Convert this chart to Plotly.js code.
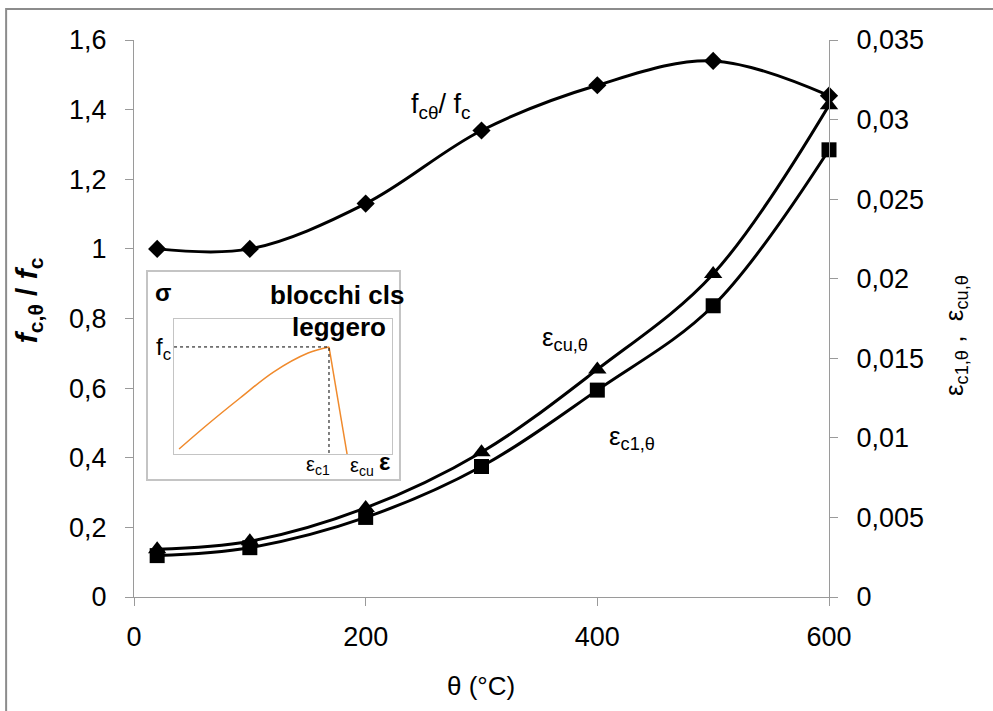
<!DOCTYPE html>
<html>
<head>
<meta charset="utf-8">
<script src="https://cdn.plot.ly/plotly-3.0.1.min.js"></script>
<style>
  html, body { margin: 0; padding: 0; background: #fff; }
  #chart { width: 993px; height: 711px; }
</style>
</head>
<body>
<div id="chart"></div>
<script>
// Temperature (°C)
const theta = [20, 100, 200, 300, 400, 500, 600];
// Relative compressive strength f_c,θ / f_c
const fcRatio = [1.00, 1.00, 1.13, 1.34, 1.47, 1.54, 1.44];
// Ultimate strain ε_cu,θ
const epsCu = [0.0030, 0.0035, 0.0056, 0.0091, 0.0143, 0.0203, 0.0309];
// Strain at peak stress ε_c1,θ
const epsC1 = [0.0026, 0.0031, 0.0050, 0.0082, 0.0130, 0.0183, 0.0281];
// Axis tick values
const xTicks = [0, 200, 400, 600];

// Inset: schematic σ–ε curve (normalised units), rising branch and softening branch
const riseEps = [0.023, 0.151, 0.303, 0.456, 0.615, 0.711];
const riseSig = [0.037, 0.215, 0.415, 0.607, 0.748, 0.793];
const fallEps = [0.711, 0.794];
const fallSig = [0.793, 0.0];

const FONT = 'Liberation Sans, Arial, sans-serif';
const AXIS_GREY = '#9a9a9a';

const lineStyle = {color: '#000', width: 3, shape: 'spline', smoothing: 1};

const traces = [
  {
    x: theta, y: fcRatio, xaxis: 'x', yaxis: 'y', cliponaxis: false,
    mode: 'lines+markers', line: lineStyle,
    marker: {symbol: 'diamond', size: 14, color: '#000'}
  },
  {
    x: theta, y: epsCu, xaxis: 'x', yaxis: 'y2', cliponaxis: false,
    mode: 'lines+markers', line: lineStyle,
    marker: {symbol: 'triangle-up', size: 16, color: '#000'}
  },
  {
    x: theta, y: epsC1, xaxis: 'x', yaxis: 'y2', cliponaxis: false,
    mode: 'lines+markers', line: lineStyle,
    marker: {symbol: 'square', size: 15, color: '#000'}
  },
  // inset: stress-strain curve
  {
    x: riseEps, y: riseSig, xaxis: 'x2', yaxis: 'y3',
    mode: 'lines', line: {color: '#f08a2c', width: 1.5, shape: 'spline', smoothing: 1}
  },
  {
    x: fallEps, y: fallSig, xaxis: 'x2', yaxis: 'y3',
    mode: 'lines', line: {color: '#f08a2c', width: 1.5}
  },
  // inset: dashed guides to the peak
  {
    x: [0, riseEps[riseEps.length - 1], riseEps[riseEps.length - 1]],
    y: [riseSig[riseSig.length - 1], riseSig[riseSig.length - 1], 0],
    xaxis: 'x2', yaxis: 'y3',
    mode: 'lines', line: {color: '#000', width: 1, dash: 'dot'}
  }
];

// inset domain in paper coordinates
const insetX = [0.0576, 0.3712];
const insetY = [0.2567, 0.4991];

const baseAxis = {
  showgrid: false, zeroline: false, showline: true,
  linecolor: AXIS_GREY, linewidth: 1,
  ticks: 'outside', ticklen: 8, tickcolor: AXIS_GREY,
  ticklabelstandoff: 13,
  tickfont: {family: FONT, size: 27, color: '#000'}
};

const txt = (x, y, text, size, extra) => Object.assign({
  xref: 'paper', yref: 'paper', x: x, y: y, text: text, showarrow: false,
  xanchor: 'center', yanchor: 'middle',
  font: {family: FONT, size: size, color: '#000'}
}, extra || {});

const layout = {
  width: 993, height: 711,
  margin: {l: 134, r: 164, t: 40, b: 114},
  paper_bgcolor: '#fff', plot_bgcolor: 'rgba(0,0,0,0)',
  separators: ',.',
  showlegend: false,
  font: {family: FONT, color: '#000'},
  xaxis: Object.assign({}, baseAxis, {range: [0, 600], tickvals: xTicks, ticklabelstandoff: 8}),
  yaxis: Object.assign({}, baseAxis, {range: [0, 1.6], dtick: 0.2, tick0: 0}),
  yaxis2: Object.assign({}, baseAxis, {
    overlaying: 'y', side: 'right', anchor: 'x',
    range: [0, 0.035], dtick: 0.005, tick0: 0
  }),
  xaxis2: {
    domain: insetX, anchor: 'y3', range: [0, 1],
    showgrid: false, zeroline: false, showticklabels: false, ticks: '',
    showline: true, mirror: true, linecolor: '#c4c4c4', linewidth: 1
  },
  yaxis3: {
    domain: insetY, anchor: 'x2', range: [0, 1],
    showgrid: false, zeroline: false, showticklabels: false, ticks: '',
    showline: true, mirror: true, linecolor: '#c4c4c4', linewidth: 1
  },
  shapes: [
    // outer frame of the figure
    {type: 'rect', xref: 'paper', yref: 'paper', x0: -0.184, x1: 1.26, y0: -0.24, y1: 1.0557,
     line: {color: '#8c8c8c', width: 2}, fillcolor: 'rgba(0,0,0,0)', layer: 'below'},
    // inset box
    {type: 'rect', xref: 'paper', yref: 'paper', x0: 0.0187, x1: 0.3827, y0: 0.210, y1: 0.5853,
     line: {color: '#c4c4c4', width: 2}, fillcolor: '#fff', layer: 'below'}
  ],
  annotations: [
    // axis titles
    txt(0.499, -0.16, 'θ (°C)', 26),
    txt(-0.1525, 0.533, '<b><i>f</i><sub>c,θ</sub> / <i>f</i><sub>c</sub></b>', 30, {textangle: -90}),
    txt(1.181, 0.470, 'ε<sub>c1,θ</sub> ,  ε<sub>cu,θ</sub>', 26, {textangle: -90}),
    // series labels
    {xref: 'x', yref: 'y', x: 265, y: 1.41, text: 'f<sub>cθ</sub>/ f<sub>c</sub>',
     showarrow: false, font: {family: FONT, size: 27, color: '#000'}},
    {xref: 'x', yref: 'y2', x: 372, y: 0.01627, text: 'ε<sub>cu,θ</sub>',
     showarrow: false, font: {family: FONT, size: 26, color: '#000'}},
    {xref: 'x', yref: 'y2', x: 430, y: 0.01005, text: 'ε<sub>c1,θ</sub>',
     showarrow: false, font: {family: FONT, size: 26, color: '#000'}},
    // inset labels
    txt(0.0417, 0.547, '<b>σ</b>', 24),
    txt(0.392, 0.542, '<b>blocchi cls</b>', 26, {xanchor: 'right'}),
    txt(0.3655, 0.4847, '<b>leggero</b>', 26, {xanchor: 'right'}),
    txt(0.0561, 0.447, 'f<sub>c</sub>', 24, {xanchor: 'right'}),
    txt(0.2647, 0.236, 'ε<sub>c1</sub>', 20),
    txt(0.328, 0.234, 'ε<sub>cu</sub>', 20),
    txt(0.361, 0.244, '<b>ε</b>', 24)
  ]
};

Plotly.newPlot('chart', traces, layout, {staticPlot: true, displayModeBar: false});
</script>
</body>
</html>
